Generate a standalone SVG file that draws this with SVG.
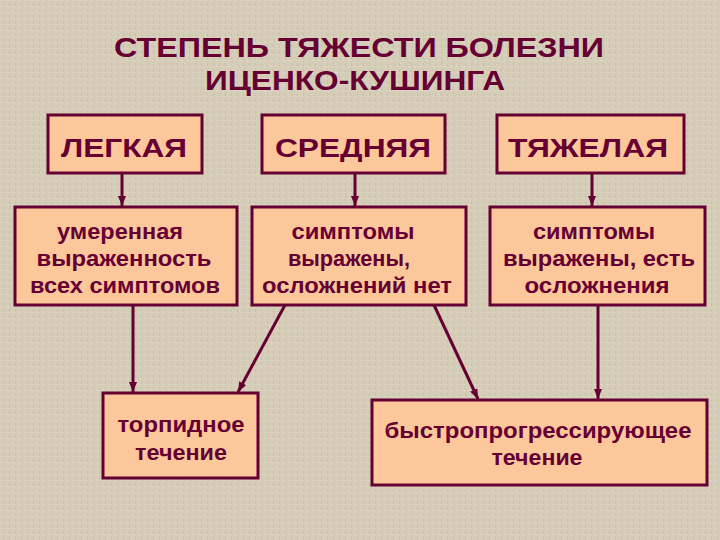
<svg xmlns="http://www.w3.org/2000/svg" width="720" height="540" viewBox="0 0 720 540">
<defs>
<style>
.box{fill:#fcc89b;stroke:#660033;stroke-width:3}
.t{font-family:"Liberation Sans",Arial,sans-serif;font-weight:bold;fill:#660033}
.title{font-size:28px}
.h{font-size:26px}
.b{font-size:22px}
.c{stroke:#660033;stroke-width:3;fill:none;marker-end:url(#ah)}
</style>
<marker id="ah" viewBox="0 0 10 8" refX="10" refY="4" markerWidth="10" markerHeight="8" markerUnits="userSpaceOnUse" orient="auto">
<path d="M0,0 L10,4 L0,8 z" fill="#660033"/>
</marker>
<pattern id="tex" width="6" height="6" patternUnits="userSpaceOnUse">
<rect width="6" height="6" fill="#d5cdb8"/>
<rect x="0" y="0" width="3" height="1" fill="#dcd5c2"/>
<rect x="3" y="3" width="1" height="3" fill="#cbc2ab"/>
</pattern>
</defs>
<rect width="720" height="540" fill="url(#tex)"/>
<g id="title">
<text class="t title" x="359" y="57" text-anchor="middle" textLength="490" lengthAdjust="spacingAndGlyphs">СТЕПЕНЬ ТЯЖЕСТИ БОЛЕЗНИ</text>
<text class="t title" x="355" y="90" text-anchor="middle" textLength="300" lengthAdjust="spacingAndGlyphs">ИЦЕНКО-КУШИНГА</text>
</g>
<g id="connectors">
<line class="c" x1="122" y1="173" x2="122" y2="206"/>
<line class="c" x1="355" y1="173" x2="355" y2="206"/>
<line class="c" x1="592" y1="173" x2="592" y2="206"/>
<line class="c" x1="133" y1="305" x2="133" y2="392"/>
<line class="c" x1="285" y1="305" x2="238" y2="392"/>
<line class="c" x1="434" y1="305" x2="478" y2="399"/>
<line class="c" x1="598" y1="305" x2="598" y2="399"/>
</g>
<g id="legkaya">
<rect class="box" x="48" y="115" width="154" height="58"/>
<text class="t h" x="124" y="157" text-anchor="middle" textLength="126" lengthAdjust="spacingAndGlyphs">ЛЕГКАЯ</text>
</g>
<g id="srednyaya">
<rect class="box" x="262" y="115" width="183" height="58"/>
<text class="t h" x="353" y="157" text-anchor="middle" textLength="156" lengthAdjust="spacingAndGlyphs">СРЕДНЯЯ</text>
</g>
<g id="tyazhelaya">
<rect class="box" x="497" y="115" width="187" height="58"/>
<text class="t h" x="588" y="157" text-anchor="middle" textLength="160" lengthAdjust="spacingAndGlyphs">ТЯЖЕЛАЯ</text>
</g>
<g id="desc1">
<rect class="box" x="15" y="207" width="222" height="98"/>
<text class="t b" x="120" y="239" text-anchor="middle" textLength="126" lengthAdjust="spacingAndGlyphs">умеренная</text>
<text class="t b" x="124" y="266" text-anchor="middle" textLength="175" lengthAdjust="spacingAndGlyphs">выраженность</text>
<text class="t b" x="125" y="293" text-anchor="middle" textLength="190" lengthAdjust="spacingAndGlyphs">всех симптомов</text>
</g>
<g id="desc2">
<rect class="box" x="252" y="207" width="214" height="98"/>
<text class="t b" x="353" y="239" text-anchor="middle" textLength="123" lengthAdjust="spacingAndGlyphs">симптомы</text>
<text class="t b" x="349" y="266" text-anchor="middle" textLength="122" lengthAdjust="spacingAndGlyphs">выражены,</text>
<text class="t b" x="357" y="293" text-anchor="middle" textLength="190" lengthAdjust="spacingAndGlyphs">осложнений нет</text>
</g>
<g id="desc3">
<rect class="box" x="490" y="207" width="215" height="98"/>
<text class="t b" x="594" y="239" text-anchor="middle" textLength="122" lengthAdjust="spacingAndGlyphs">симптомы</text>
<text class="t b" x="599" y="266" text-anchor="middle" textLength="192" lengthAdjust="spacingAndGlyphs">выражены, есть</text>
<text class="t b" x="597" y="293" text-anchor="middle" textLength="145" lengthAdjust="spacingAndGlyphs">осложнения</text>
</g>
<g id="torpid">
<rect class="box" x="103" y="393" width="155" height="85"/>
<text class="t b" x="181" y="432" text-anchor="middle" textLength="127" lengthAdjust="spacingAndGlyphs">торпидное</text>
<text class="t b" x="181" y="460" text-anchor="middle" textLength="92" lengthAdjust="spacingAndGlyphs">течение</text>
</g>
<g id="rapid">
<rect class="box" x="372" y="400" width="335" height="85"/>
<text class="t b" x="538" y="438" text-anchor="middle" textLength="307" lengthAdjust="spacingAndGlyphs">быстропрогрессирующее</text>
<text class="t b" x="537" y="465" text-anchor="middle" textLength="91" lengthAdjust="spacingAndGlyphs">течение</text>
</g>
</svg>
